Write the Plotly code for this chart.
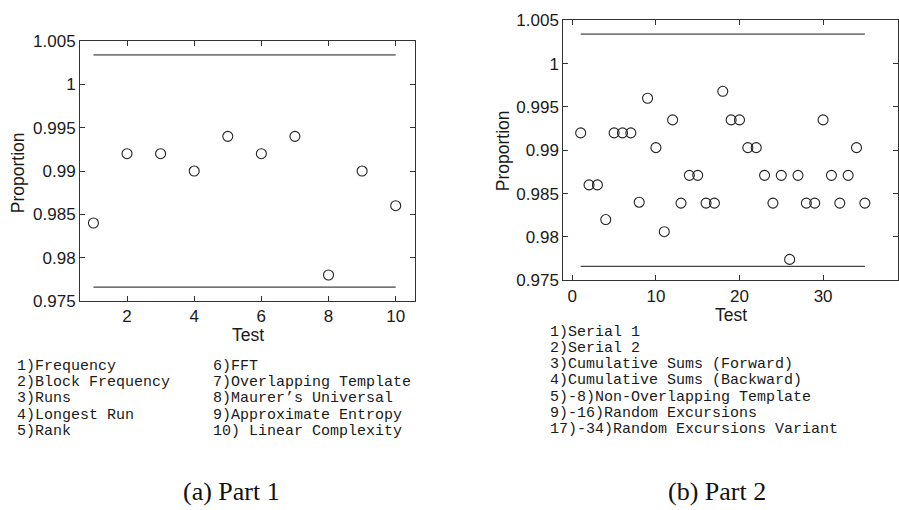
import plotly.graph_objects as go

# ---- data -------------------------------------------------------------
tests_part1 = list(range(1, 11))
prop_part1 = [0.984, 0.992, 0.992, 0.990, 0.994, 0.992, 0.994, 0.978, 0.990, 0.986]

tests_part2 = list(range(1, 36))
prop_part2 = [
    0.992, 0.986, 0.986, 0.982, 0.992, 0.992, 0.992, 0.984, 0.996, 0.9903,
    0.9806, 0.9935, 0.9839, 0.9871, 0.9871, 0.9839, 0.9839, 0.9968, 0.9935, 0.9935,
    0.9903, 0.9903, 0.9871, 0.9839, 0.9871, 0.9774, 0.9871, 0.9839, 0.9839, 0.9935,
    0.9871, 0.9839, 0.9871, 0.9903, 0.9839,
]

upper_bound = 1.0034
lower_bound = 0.9766

y_tickvals = [0.975, 0.98, 0.985, 0.99, 0.995, 1.0, 1.005]
y_ticktext = ["0.975", "0.98", "0.985", "0.99", "0.995", "1", "1.005"]
x_ticks_part1 = [2, 4, 6, 8, 10]
x_ticks_part2 = [0, 10, 20, 30]

legend_part1_col1 = ["1)Frequency", "2)Block Frequency", "3)Runs", "4)Longest Run", "5)Rank"]
legend_part1_col2 = ["6)FFT", "7)Overlapping Template", "8)Maurer\u2019s Universal",
                     "9)Approximate Entropy", "10) Linear Complexity"]
legend_part2 = ["1)Serial 1", "2)Serial 2", "3)Cumulative Sums (Forward)",
                "4)Cumulative Sums (Backward)", "5)-8)Non-Overlapping Template",
                "9)-16)Random Excursions", "17)-34)Random Excursions Variant"]

captions = ["(a) Part 1", "(b) Part 2"]

# ---- figure -----------------------------------------------------------
W, H = 899, 510
AX = "#333333"
SANS = "Liberation Sans, Arial, sans-serif"
MONO = "Liberation Mono, Courier New, monospace"
SERIF = "Liberation Serif, Times New Roman, serif"

fig = go.Figure()


def add_panel(xs, ys, xaxis, yaxis):
    fig.add_trace(go.Scatter(x=[xs[0], xs[-1]], y=[upper_bound, upper_bound], mode="lines",
                             line=dict(color="#7a7a7a", width=1.8),
                             xaxis=xaxis, yaxis=yaxis, showlegend=False, hoverinfo="skip"))
    fig.add_trace(go.Scatter(x=[xs[0], xs[-1]], y=[lower_bound, lower_bound], mode="lines",
                             line=dict(color="#444444", width=1.2),
                             xaxis=xaxis, yaxis=yaxis, showlegend=False, hoverinfo="skip"))
    fig.add_trace(go.Scatter(x=xs, y=ys, mode="markers",
                             marker=dict(symbol="circle-open", size=10, color="#222222",
                                         line=dict(color="#222222", width=1.1)),
                             xaxis=xaxis, yaxis=yaxis, showlegend=False))


add_panel(tests_part1, prop_part1, "x", "y")
add_panel(tests_part2, prop_part2, "x2", "y2")

common_axis = dict(showgrid=False, zeroline=False, showline=True, linecolor=AX, linewidth=1,
                   mirror="ticks", ticks="inside", ticklen=5, tickcolor=AX, tickwidth=1,
                   tickfont=dict(family=SANS, size=17, color="#1a1a1a"))

# pixel boxes of the two axes areas (left, right, top, bottom)
box1 = (80, 415, 33.3, 303.3)
box2 = (563.3, 898.3, 11.7, 281.7)


def dom_x(b):
    return [b[0] / W, b[1] / W]


def dom_y(b):
    return [1 - b[3] / H, 1 - b[2] / H]


fig.update_layout(
    width=W, height=H, margin=dict(l=0, r=0, t=0, b=0),
    paper_bgcolor="white", plot_bgcolor="white",
    xaxis=dict(domain=dom_x(box1), range=[0.6, 10.575], tickvals=x_ticks_part1,
               anchor="y", **common_axis),
    yaxis=dict(domain=dom_y(box1), range=[0.975, 1.005], tickvals=y_tickvals,
               ticktext=y_ticktext, anchor="x", **common_axis),
    xaxis2=dict(domain=dom_x(box2), range=[-1.08, 39], tickvals=x_ticks_part2,
                anchor="y2", **common_axis),
    yaxis2=dict(domain=dom_y(box2), range=[0.975, 1.005], tickvals=y_tickvals,
                ticktext=y_ticktext, anchor="x2", **common_axis),
)

ann = []


def px_text(x, y, text, font, xanchor="center", yanchor="middle", angle=0):
    ann.append(dict(x=x / W, y=1 - y / H, xref="paper", yref="paper", text=text,
                    showarrow=False, xanchor=xanchor, yanchor=yanchor, textangle=angle,
                    font=font))


title_font = dict(family=SANS, size=17.5, color="#1a1a1a")
# axis titles
px_text(17.5, 170, "Proportion", title_font, angle=-90)
px_text(247.5, 339, "Test", title_font)
px_text(502.7, 147, "Proportion", title_font, angle=-90)
px_text(730.8, 318, "Test", title_font)

# test name keys
mono_font = dict(family=MONO, size=15, color="#1a1a1a")
for i, t in enumerate(legend_part1_col1):
    px_text(15, 371 + 17 * i, t, mono_font, xanchor="left")
for i, t in enumerate(legend_part1_col2):
    px_text(210.7, 371 + 17 * i, t, mono_font, xanchor="left")
for i, t in enumerate(legend_part2):
    px_text(548, 335.5 + 16.93 * i, t, mono_font, xanchor="left")

# sub-figure captions
cap_font = dict(family=SERIF, size=26, color="#111111")
px_text(231, 501, captions[0], cap_font)
px_text(717, 501, captions[1], cap_font)

fig.update_layout(annotations=ann)

fig.write_html("out.html")
